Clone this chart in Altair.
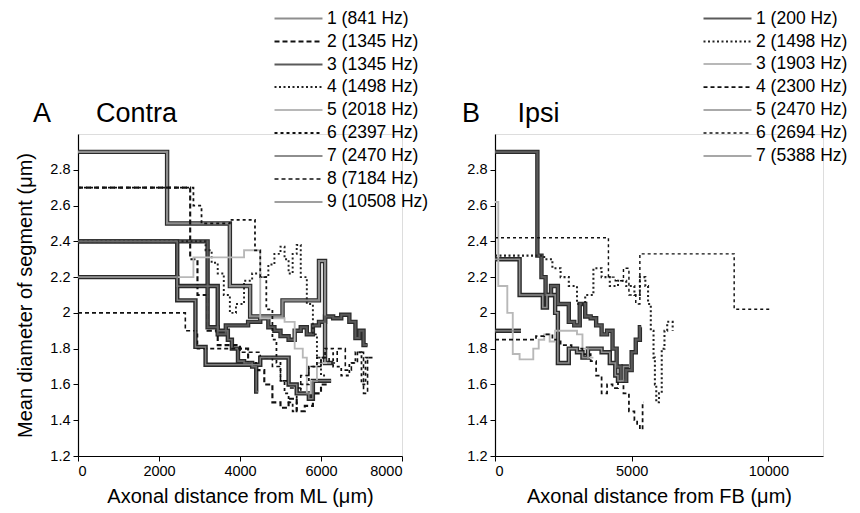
import altair as alt
import pandas as pd

FONT = "Liberation Sans"

# ---------------- Panel A (Contra) ----------------
a_labels = ["1 (841 Hz)", "2 (1345 Hz)", "3 (1345 Hz)", "4 (1498 Hz)", "5 (2018 Hz)",
            "6 (2397 Hz)", "7 (2470 Hz)", "8 (7184 Hz)", "9 (10508 Hz)"]
a1_x = [0, 2200, 3750, 4250, 5050, 5950, 6100, 6300]
a1_y = [2.9, 2.5, 2.15, 1.98, 2.07, 2.29, 1.72, 1.72]
a2_x = [0, 2770, 2950, 3200, 3450, 3700, 4000, 4200, 4400, 4600, 4800, 5000, 5200, 5400, 5600, 5800, 6000, 6200]
a2_y = [2.7, 2.3, 2.1, 1.9, 1.82, 1.82, 1.8, 1.72, 1.68, 1.6, 1.5, 1.47, 1.52, 1.45, 1.48, 1.55, 1.6, 1.6]
a3_x = [0, 3200, 3450, 3650, 3800, 4200, 4500, 4700, 4850, 5000, 5200, 5350, 5500, 5650, 5800, 5950, 6100, 6300, 6500, 6700, 6850, 6950, 7050, 7150]
a3_y = [2.4, 1.92, 1.88, 1.93, 1.93, 1.95, 1.97, 1.92, 1.9, 1.87, 1.85, 1.9, 1.92, 1.88, 1.93, 1.95, 1.98, 1.97, 1.99, 1.95, 1.86, 1.9, 1.82, 1.82]
a4_x = [0, 3150, 3300, 3450, 3600, 3750, 3900, 4100, 4300, 4500, 4700, 4850, 5000, 5100, 5200, 5300, 5400, 5500, 5650, 5800, 5900, 6000, 6100]
a4_y = [2.4, 2.35, 2.28, 2.22, 2.1, 2.0, 2.05, 2.18, 2.22, 2.2, 2.27, 2.33, 2.37, 2.3, 2.22, 2.33, 2.38, 2.2, 2.05, 1.88, 1.75, 1.65, 1.65]
a5_x = [0, 2850, 4100, 4500, 5100, 5350, 5550, 5650, 5750, 5900, 6150]
a5_y = [2.2, 2.31, 2.35, 1.97, 1.95, 1.8, 1.75, 1.55, 1.62, 1.72, 1.72]
a6_x = [0, 2850, 3050, 3750, 4370, 4500, 4650, 4800, 4900, 5000, 5100, 5200, 5300, 5400, 5500, 5700, 5900, 6100, 6300, 6500, 6700, 6850, 7000, 7100, 7200]
a6_y = [2.7, 2.6, 2.5, 2.52, 2.35, 2.2, 2.02, 1.85, 1.72, 1.62, 1.55, 1.5, 1.45, 1.55, 1.6, 1.7, 1.75, 1.8, 1.7, 1.65, 1.72, 1.78, 1.6, 1.75, 1.75]
a7_x = [0, 2450, 3450, 3700, 3800, 3950, 4100, 4300, 4400, 4450]
a7_y = [2.4, 2.15, 1.9, 1.85, 1.8, 1.73, 1.72, 1.7, 1.56, 1.56]
a8_x = [0, 2650, 2950, 3500, 4000, 4500, 4800, 5000, 5200, 5500, 5700, 6000, 6200, 6400, 6600, 6750, 6900, 7050, 7150, 7300]
a8_y = [2.0, 1.9, 1.8, 1.8, 1.78, 1.75, 1.7, 1.62, 1.58, 1.65, 1.7, 1.75, 1.72, 1.8, 1.68, 1.72, 1.78, 1.55, 1.75, 1.75]
a9_x = [0, 2450, 2900, 3150, 4500, 5100, 5200, 5400, 5700, 5800, 6000, 6250]
a9_y = [2.2, 2.07, 1.81, 1.71, 1.75, 1.75, 1.6, 1.55, 1.52, 1.62, 1.62, 1.62]

# ---------------- Panel B (Ipsi) ----------------
b_labels = ["1 (200 Hz)", "2 (1498 Hz)", "3 (1903 Hz)", "4 (2300 Hz)",
            "5 (2470 Hz)", "6 (2694 Hz)", "7 (5388 Hz)"]
b1_x = [0, 1550, 1700, 1850, 2050, 2300, 2700, 2900, 3100, 3300, 3500, 3700, 3900, 4100, 4300, 4450, 4600, 4800, 5000, 5150, 5300, 5350]
b1_y = [2.9, 2.32, 2.2, 2.1, 2.15, 2.05, 1.95, 1.93, 2.05, 1.98, 1.97, 1.93, 1.88, 1.9, 1.8, 1.7, 1.62, 1.68, 1.78, 1.85, 1.92, 1.92]
b2_x = [0, 1800, 2100, 2400, 2700, 3000, 3300, 3600, 3900, 4200, 4500, 4800, 5100, 5300, 5500, 5600, 5700, 5800, 5850, 5900, 6000, 6100, 6200, 6300, 6500]
b2_y = [2.32, 2.3, 2.25, 2.2, 2.15, 2.05, 2.1, 2.25, 2.2, 2.15, 2.18, 2.15, 2.1, 2.2, 2.15, 2.05, 1.9, 1.75, 1.6, 1.5, 1.55, 1.8, 1.9, 1.95, 1.9]
b3_x = [0, 120, 450, 650, 900, 1200, 1400, 1600, 1800, 2000, 2200, 2600, 3000, 3200, 3400, 3600]
b3_y = [2.62, 2.15, 2.0, 1.77, 1.74, 1.74, 1.8, 1.85, 1.88, 1.84, 1.9, 1.9, 1.88, 1.8, 1.75, 1.75]
b4_x = [0, 1200, 1500, 1800, 2100, 2400, 2800, 3200, 3500, 3700, 3900, 4100, 4300, 4500, 4700, 4900, 5100, 5200, 5300, 5400, 5450]
b4_y = [1.85, 1.85, 1.87, 1.88, 1.85, 1.82, 1.8, 1.77, 1.73, 1.65, 1.55, 1.6, 1.58, 1.62, 1.55, 1.45, 1.4, 1.38, 1.35, 1.5, 1.5]
b5_x = [0, 900, 1750, 1900, 2200, 2300, 2700, 3000, 3200, 3400, 3700, 3900, 4200, 4400, 4500, 4700, 4900]
b5_y = [2.3, 2.1, 2.03, 2.1, 2.0, 1.72, 1.8, 1.78, 1.75, 1.8, 1.8, 1.78, 1.72, 1.65, 1.62, 1.7, 1.7]
b6_x = [0, 4150, 4400, 4700, 4900, 5150, 5300, 8750, 10100]
b6_y = [2.42, 2.2, 2.18, 2.25, 2.1, 2.05, 2.33, 2.02, 2.02]
b7_x = [0, 950]
b7_y = [1.9, 1.9]

y_ticks = [1.2, 1.4, 1.6, 1.8, 2.0, 2.2, 2.4, 2.6, 2.8]
a_x_ticks = [0, 2000, 4000, 6000, 8000]
b_x_ticks = [0, 5000, 10000]

# ---------------- styles ----------------
a_colors = ["#8e8e8e", "#111111", "#5a5a5a", "#222222", "#b8b8b8", "#111111", "#6a6a6a", "#111111", "#808080"]
a_dashes = [[1, 0], [5, 3], [1, 0], [2, 2.5], [1, 0], [3, 3], [1, 0], [4, 3], [1, 0]]
a_widths = [2.2, 1.5, 2.2, 1.3, 2.6, 1.4, 2.2, 1.4, 2.2]
a_outline = [1, 0, 1, 0, 0, 0, 1, 0, 1]

b_colors = ["#5a5a5a", "#222222", "#b8b8b8", "#111111", "#8e8e8e", "#111111", "#8a8a8a"]
b_dashes = [[1, 0], [2, 2.5], [1, 0], [4, 3], [1, 0], [3, 3], [1, 0]]
b_widths = [2.2, 1.3, 2.6, 1.4, 2.2, 1.4, 2.2]
b_outline = [1, 0, 0, 0, 1, 0, 1]


def build(labels, xs, ys, outline):
    rows = []
    for lab, xv, yv, o in zip(labels, xs, ys, outline):
        for i, (a, b) in enumerate(zip(xv, yv)):
            rows.append({"series": lab, "i": i, "x": a, "y": b, "outline": o})
    return pd.DataFrame(rows)


AXIS_STYLE = dict(grid=False, domainColor="black", tickColor="black", labelColor="black",
                  titleColor="black", labelFont=FONT, titleFont=FONT, labelFontSize=14.5,
                  titleFontSize=20, titleFontWeight="normal", tickSize=5, domainWidth=1.2,
                  tickWidth=1, labelPadding=3)


def panel(df, labels, colors, dashes, widths, xdom, xticks, xtitle, ytitle,
          title, title_dx, legx, legy, w, h):
    x = alt.X("x:Q", scale=alt.Scale(domain=xdom, nice=False, zero=False),
              axis=alt.Axis(values=xticks, format="d", title=xtitle, titlePadding=9, **AXIS_STYLE))
    y = alt.Y("y:Q", scale=alt.Scale(domain=[1.2, 3.0], nice=False, zero=False),
              axis=alt.Axis(values=y_ticks, format=".2~f", title=ytitle, titlePadding=14, **AXIS_STYLE))
    leg = alt.Legend(orient="none", legendX=legx, legendY=legy, title=None,
                     symbolType="M-3,0H3", symbolSize=256, labelFontSize=17.5,
                     labelFont=FONT, labelOffset=19, rowPadding=5, padding=0,
                     labelColor="black", symbolFillColor="transparent")
    base = alt.Chart(df)
    under = base.transform_filter("datum.outline == 1").mark_line(
        interpolate="step-after", color="#2a2a2a", strokeWidth=4.4
    ).encode(x=x, y=y, detail="series:N", order="i:Q")
    top = base.mark_line(interpolate="step-after").encode(
        x=x, y=y, order="i:Q",
        color=alt.Color("series:N", scale=alt.Scale(domain=labels, range=colors), legend=leg),
        strokeDash=alt.StrokeDash("series:N", scale=alt.Scale(domain=labels, range=dashes), legend=leg),
        strokeWidth=alt.StrokeWidth("series:N", scale=alt.Scale(domain=labels, range=widths), legend=leg),
    )
    head = alt.Chart(pd.DataFrame({"t": [title]})).mark_text(
        align="left", baseline="alphabetic", fontSize=27, font=FONT, color="black"
    ).encode(text="t:N", x=alt.value(title_dx), y=alt.value(-12))
    return alt.layer(under, top, head).properties(width=w, height=h).resolve_scale(
        color="independent", strokeDash="independent", strokeWidth="independent")


dfa = build(a_labels, [a1_x, a2_x, a3_x, a4_x, a5_x, a6_x, a7_x, a8_x, a9_x],
            [a1_y, a2_y, a3_y, a4_y, a5_y, a6_y, a7_y, a8_y, a9_y], a_outline)
dfb = build(b_labels, [b1_x, b2_x, b3_x, b4_x, b5_x, b6_x, b7_x],
            [b1_y, b2_y, b3_y, b4_y, b5_y, b6_y, b7_y], b_outline)

pa = panel(dfa, a_labels, a_colors, a_dashes, a_widths, [0, 8000], a_x_ticks,
           "Axonal distance from ML (μm)", "Mean diameter of segment (μm)",
           "A" + "\u00a0" * 6 + "Contra", -45, 195 + 16, -125, 324, 322)
pb = panel(dfb, b_labels, b_colors, b_dashes, b_widths, [0, 12000], b_x_ticks,
           "Axonal distance from FB (μm)", None,
           "B" + "\u00a0" * 5 + "Ipsi", -33, 207 + 16, -125, 328, 322)

chart = alt.hconcat(pa, pb, spacing=93, bounds="flush").resolve_scale(
    color="independent", strokeDash="independent", strokeWidth="independent"
).resolve_legend(color="independent", strokeDash="independent", strokeWidth="independent"
).properties(
    padding={"left": 15, "top": 8, "right": 5, "bottom": 3}
).configure_view(stroke=None).configure(background="white")

chart.save("out.html", embed_options={"renderer": "svg", "actions": False})
